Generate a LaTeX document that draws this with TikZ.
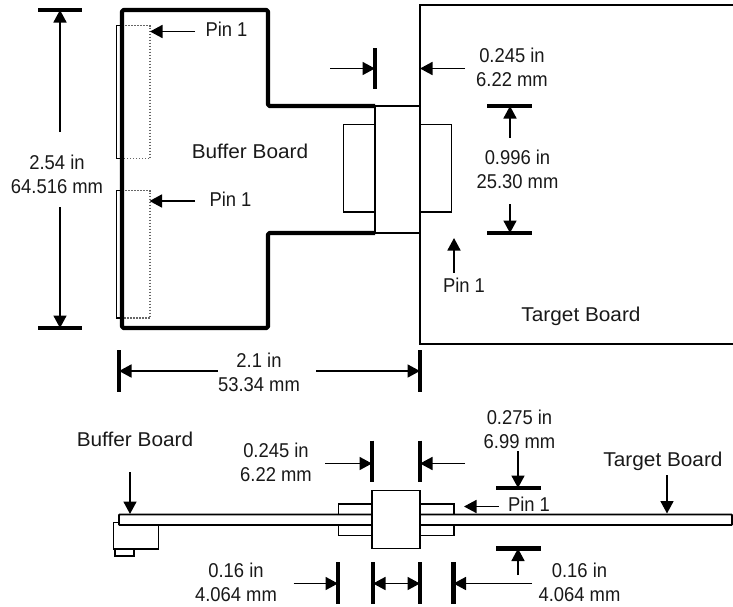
\documentclass[tikz,border=0pt]{standalone}
\usepackage{fontspec}
\setmainfont[FakeStretch=0.92]{Liberation Sans}
\newfontfamily\boardfont[FakeStretch=1.04]{Liberation Sans}
\usetikzlibrary{arrows.meta}
\tikzset{
  dimarrow/.style={line width=1.7pt,-{Triangle[length=12.5pt,width=13pt]}},
  bar/.style={line width=4.4pt},
  outline/.style={line width=4.2pt,line join=round,rounded corners=1.5pt},
  thin part/.style={line width=1.5pt},
  medium part/.style={line width=1.9pt},
  dotted part/.style={line width=1.2pt,black!60,dash pattern=on 1.5pt off 1.5pt},
  label/.style={inner sep=0pt,align=center,font=\fontsize{20}{24}\selectfont,text=black!90},
  board label/.style={inner sep=0pt,align=center,font=\boardfont\fontsize{20}{24}\selectfont,text=black!90}
}
\begin{document}
\begin{tikzpicture}[x=1pt,y=-1pt]
\useasboundingbox (0,0) rectangle (733,606);
% ---------- top view: coordinates
\coordinate (hT) at (60,10); \coordinate (hB) at (60,328);
\coordinate (wL) at (119,371); \coordinate (wR) at (420,371);
\coordinate (gL) at (375,68.5); \coordinate (gR) at (420,68.5);
\coordinate (cT) at (510,106); \coordinate (cB) at (510,233);
% target board
\draw[line width=1.8pt] (733,5) -- (420,5) -- (420,344) -- (733,344);
% connector parts
\draw[thin part] (375,124.5) -- (343.5,124.5) -- (343.5,212) -- (375,212);
\draw[thin part] (420,124.5) -- (451.5,124.5) -- (451.5,212) -- (420,212);
\draw[line width=1.7pt] (375,106) rectangle (420,233);
% dotted pin outlines
\draw[dotted part] (122,25.5) -- (150,25.5) -- (150,158.5) -- (122,158.5);
\draw[dotted part] (122,190.5) -- (150,190.5) -- (150,318) -- (122,318);
\draw[thin part] (122,25.5) -- (116.5,25.5) -- (116.5,158.5) -- (122,158.5);
\draw[thin part] (122,190.5) -- (116.5,190.5) -- (116.5,318) -- (122,318);
% buffer board
\draw[outline] (375,106) -- (268,106) -- (268,10) -- (122,10) -- (122,328) -- (268,328) -- (268,233) -- (375,233);
% dimension bars
\draw[bar] (38,10) -- (82,10);
\draw[bar] (38,328) -- (82,328);
\draw[bar] (375,48) -- (375,89);
\draw[bar] (487,106) -- (532,106);
\draw[bar] (487,233) -- (532,233);
\draw[bar] (119,350) -- (119,392);
\draw[bar] (420,350) -- (420,392);
% labels
\node[label] (hlab) at (57,174) {2.54 in\\64.516 mm};
\node[label] (wlab) at (259,372.5) {2.1 in\\53.34 mm};
\node[label] (glab) at (512,67) {0.245 in\\6.22 mm};
\node[label] (clab) at (517.5,169) {0.996 in\\25.30 mm};
\node[board label] (bb1) at (250,151.5) {Buffer Board};
\node[board label] (tb1) at (581,316) {Target Board};
\node[label] (p1) at (226.5,29) {Pin 1};
\node[label] (p2) at (230.5,199) {Pin 1};
\node[label] (p3) at (464,285) {Pin 1};
% arrows
\coordinate (hA) at (60,132); \coordinate (hC) at (60,207);
\draw[dimarrow] (hA) -- (hT);
\draw[dimarrow] (hC) -- (hB);
\coordinate (wA) at (217.5,371); \coordinate (wC) at (316,371);
\draw[dimarrow] (wA) -- (wL);
\draw[dimarrow] (wC) -- (wR);
\coordinate (gA) at (330,68.5); \coordinate (gC) at (465,68.5);
\draw[dimarrow] (gA) -- (gL);
\draw[dimarrow] (gC) -- (gR);
\coordinate (cA) at (510,137.5); \coordinate (cC) at (510,204);
\draw[dimarrow] (cA) -- (cT);
\draw[dimarrow] (cC) -- (cB);
\coordinate (pa1) at (195,31.5); \coordinate (pb1) at (150,31.5);
\coordinate (pa2) at (195,201); \coordinate (pb2) at (149.5,201);
\coordinate (pa3) at (454,272.5); \coordinate (pb3) at (454,238);
\draw[dimarrow] (pa1) -- (pb1);
\draw[dimarrow] (pa2) -- (pb2);
\draw[dimarrow] (pa3) -- (pb3);
% ---------- side view
\draw[thin part,fill=white] (338.5,504) rectangle (372,535.5);
\draw[thin part,fill=white] (420,504) rectangle (454,535.5);
\draw[medium part] (119,522.5) -- (113.5,522.5) -- (113.5,549) -- (158.5,549) -- (158.5,525);
\draw[medium part] (115,549) -- (115,556) -- (134,556) -- (134,549);
\draw[medium part,fill=white,rounded corners=0.8pt] (732,514.5) -- (119,514.5) -- (119,525) -- (732,525) -- cycle;
\draw[line width=1.7pt,fill=white] (372,490.5) rectangle (420,548.5);
% side-view bars
\draw[bar] (372,440.5) -- (372,482);
\draw[bar] (420,440.5) -- (420,482);
\draw[bar] (338,562) -- (338,604);
\draw[bar] (373,562) -- (373,604);
\draw[bar] (420,562) -- (420,604);
\draw[bar] (453.5,562) -- (453.5,604);
\draw[bar] (496,488) -- (541,488);
\draw[bar] (496,548.5) -- (541,548.5);
% side-view labels
\node[board label] (bb2) at (135,439) {Buffer Board};
\node[board label] (tb2) at (663,461.5) {Target Board};
\node[label] (g2lab) at (276,462.5) {0.245 in\\6.22 mm};
\node[label] (tlab) at (519.5,429) {0.275 in\\6.99 mm};
\node[label] (llab) at (236,582) {0.16 in\\4.064 mm};
\node[label] (rlab) at (579.5,582) {0.16 in\\4.064 mm};
\node[label] (p4) at (529,504) {Pin 1};
% side-view arrows
\coordinate (a1) at (130,472); \coordinate (a2) at (130,514);
\coordinate (a3) at (667,475); \coordinate (a4) at (667,513.5);
\coordinate (a5) at (325,463.5); \coordinate (a6) at (372,463.5);
\coordinate (a7) at (465,463.5); \coordinate (a8) at (420,463.5);
\coordinate (a9) at (518,451); \coordinate (a10) at (518,488);
\coordinate (a11) at (518,575); \coordinate (a12) at (518,548.5);
\coordinate (a13) at (498.5,506.5); \coordinate (a14) at (464,506.5);
\coordinate (a15) at (293.5,583.5); \coordinate (a16) at (338,583.5);
\coordinate (a17) at (532,583.5); \coordinate (a18) at (453.5,583.5);
\coordinate (a19) at (373,583.5); \coordinate (a20) at (420,583.5);
\draw[dimarrow] (a1) -- (a2);
\draw[dimarrow] (a3) -- (a4);
\draw[dimarrow] (a5) -- (a6);
\draw[dimarrow] (a7) -- (a8);
\draw[dimarrow] (a9) -- (a10);
\draw[dimarrow] (a11) -- (a12);
\draw[dimarrow] (a13) -- (a14);
\draw[dimarrow] (a15) -- (a16);
\draw[dimarrow] (a17) -- (a18);
\draw[line width=1.7pt,{Triangle[length=12.5pt,width=13pt]}-{Triangle[length=12.5pt,width=13pt]}] (a19) -- (a20);
\end{tikzpicture}
\end{document}
